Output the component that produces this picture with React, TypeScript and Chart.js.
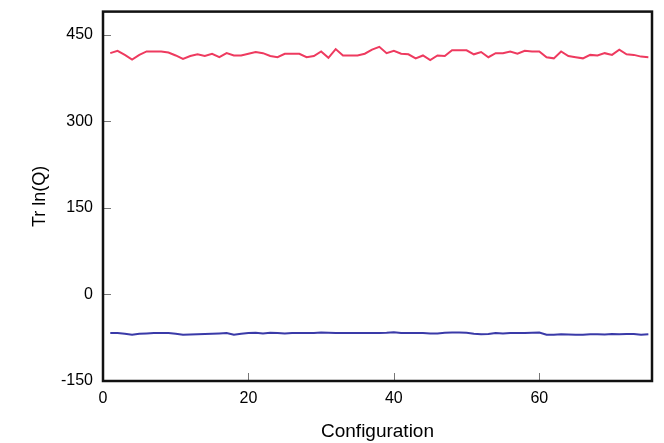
import React, { useEffect, useRef } from "react";
import { Chart, registerables } from "chart.js";

Chart.register(...registerables);

const configurations: number[] = Array.from({ length: 75 }, (_, i) => i + 1);

const redSeries: number[] = [
  418, 422, 415, 407, 415, 421, 421, 421, 419, 414,
  408, 413, 416, 413, 417, 411, 418, 414, 414, 417,
  420, 418, 413, 411, 417, 417, 417, 411, 413, 421,
  410, 425, 414, 414, 414, 417, 424, 429, 418, 422,
  417, 416, 409, 414, 406, 414, 413, 423, 423, 423,
  416, 420, 411, 418, 418, 421, 417, 422, 421, 421,
  411, 409, 421, 413, 411, 409, 415, 414, 418, 415,
  424, 416, 415, 412, 411,
];

const blueSeries: number[] = [
  -67, -67, -68, -70, -68, -67.5, -67, -67, -67, -68,
  -70, -69.5, -69, -68.5, -68, -67.5, -67, -70, -68, -67,
  -66.5, -67.5, -66.5, -67, -67.5, -67, -67, -67, -67, -66,
  -66.5, -67, -67, -67, -67, -67, -67, -67, -66.5, -65.5,
  -67, -67, -67, -67, -67.5, -67.5, -66.5, -66, -66, -66.5,
  -68, -69, -68.5, -67, -67.5, -67, -67, -67, -66.5, -66,
  -70, -70, -69, -69.5, -70, -70, -69, -69, -69.5, -68.5,
  -69, -68.5, -68.5, -70, -69,
];

const xTickValues: number[] = [0, 20, 40, 60];
const yTickValues: number[] = [-150, 0, 150, 300, 450];

const FONT = "'Liberation Sans', Arial, Helvetica, sans-serif";

const framePlugin = {
  id: "frame",
  afterDraw(chart: any) {
    const { ctx, chartArea } = chart;
    const xs = chart.scales.x;
    const ys = chart.scales.y;
    ctx.save();
    ctx.strokeStyle = "#777";
    ctx.lineWidth = 1;
    ctx.beginPath();
    xTickValues.forEach((v) => {
      const px = Math.round(xs.getPixelForValue(v)) + 0.5;
      ctx.moveTo(px, chartArea.bottom);
      ctx.lineTo(px, chartArea.bottom - 8);
    });
    yTickValues.forEach((v) => {
      const py = Math.round(ys.getPixelForValue(v)) + 0.5;
      ctx.moveTo(chartArea.left, py);
      ctx.lineTo(chartArea.left + 8, py);
    });
    ctx.stroke();
    ctx.strokeStyle = "#111";
    ctx.lineWidth = 2.5;
    ctx.strokeRect(
      chartArea.left,
      chartArea.top,
      chartArea.right - chartArea.left,
      chartArea.bottom - chartArea.top
    );
    ctx.restore();
  },
};

export default function App() {
  const canvasRef = useRef<HTMLCanvasElement | null>(null);

  useEffect(() => {
    document.body.style.margin = "0";
    const canvas = canvasRef.current;
    if (!canvas) return;
    const chart = new Chart(canvas, {
      type: "line",
      data: {
        datasets: [
          {
            label: "red",
            data: configurations.map((x, i) => ({ x, y: redSeries[i] })),
            borderColor: "#ee3a5f",
            borderWidth: 2,
            pointRadius: 0,
            tension: 0,
            fill: false,
          },
          {
            label: "blue",
            data: configurations.map((x, i) => ({ x, y: blueSeries[i] })),
            borderColor: "#3a3aa8",
            borderWidth: 2,
            pointRadius: 0,
            tension: 0,
            fill: false,
          },
        ],
      },
      options: {
        animation: false,
        responsive: false,
        layout: { padding: { left: 0, right: 12, top: 1, bottom: 0 } },
        plugins: {
          legend: { display: false },
          tooltip: { enabled: false },
        },
        scales: {
          x: {
            type: "linear",
            min: 0,
            max: 75.5,
            afterBuildTicks: (scale: any) => {
              scale.ticks = xTickValues.map((v) => ({ value: v }));
            },
            afterFit: (scale: any) => {
              scale.height = 62;
            },
            grid: { display: false },
            border: { display: false },
            ticks: {
              color: "#000",
              font: { family: FONT, size: 16 },
              padding: 0,
              maxRotation: 0,
            },
            title: {
              display: true,
              text: "Configuration",
              color: "#000",
              font: { family: FONT, size: 19 },
              padding: { top: 0, bottom: 0 },
            },
          },
          y: {
            type: "linear",
            min: -150,
            max: 490,
            afterBuildTicks: (scale: any) => {
              scale.ticks = yTickValues.map((v) => ({ value: v }));
            },
            afterFit: (scale: any) => {
              scale.width = 103;
            },
            grid: { display: false },
            border: { display: false },
            ticks: {
              color: "#000",
              font: { family: FONT, size: 16 },
              padding: 2,
            },
            title: {
              display: true,
              text: "Tr ln(Q)",
              color: "#000",
              font: { family: FONT, size: 18 },
              padding: { top: 29, bottom: 0 },
            },
          },
        },
      },
      plugins: [framePlugin],
    });
    return () => chart.destroy();
  }, []);

  return (
    <div style={{ width: 664, height: 443 }}>
      <canvas ref={canvasRef} width={664} height={443} style={{ display: "block" }} />
    </div>
  );
}
